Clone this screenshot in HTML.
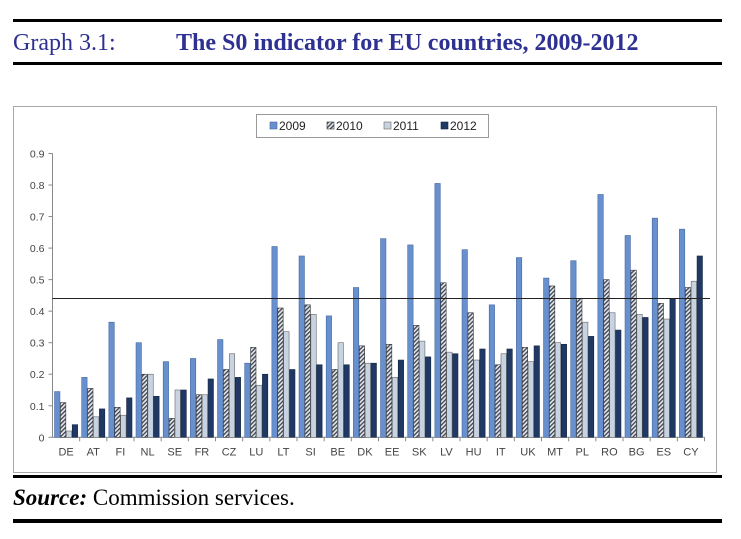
<!DOCTYPE html>
<html><head><meta charset="utf-8">
<style>
body{margin:0;background:#fff;width:741px;height:539px;overflow:hidden;position:relative;font-family:"Liberation Serif",serif}
.rule{position:absolute;left:13px;width:709px;background:#000}
</style></head>
<body>
<div class="rule" style="top:19px;height:3px"></div>
<div style="position:absolute;left:13px;top:29px;font-size:24px;line-height:28px;color:#2e3192">Graph 3.1:</div>
<div style="position:absolute;left:176px;top:29px;font-size:24px;line-height:28px;font-weight:bold;color:#2e3192">The S0 indicator for EU countries, 2009-2012</div>
<div class="rule" style="top:62px;height:3px"></div>
<svg id="chart" width="741" height="539" style="position:absolute;left:0;top:0" xmlns="http://www.w3.org/2000/svg">
<defs>
<pattern id="hatch" patternUnits="userSpaceOnUse" width="3" height="3" patternTransform="rotate(45)">
<rect width="3" height="3" fill="#e4e6ea"/><rect width="1.3" height="3" fill="#3a4250"/>
</pattern>
</defs>
<rect x="13.5" y="106.5" width="703" height="366" fill="#fff" stroke="#a9a9a9"/>
<g id="plot"></g>
</svg>
<div class="rule" style="top:475px;height:3px"></div>
<div style="position:absolute;left:13px;top:484px;font-size:23px;line-height:28px;color:#000"><b><i>Source:</i></b> Commission services.</div>
<div class="rule" style="top:519px;height:4px"></div>
<script>
const categories=["DE","AT","FI","NL","SE","FR","CZ","LU","LT","SI","BE","DK","EE","SK","LV","HU","IT","UK","MT","PL","RO","BG","ES","CY"];
const series2009=[0.145,0.19,0.365,0.30,0.24,0.25,0.31,0.235,0.605,0.575,0.385,0.475,0.63,0.61,0.805,0.595,0.42,0.57,0.505,0.56,0.77,0.64,0.695,0.66];
const series2010=[0.11,0.155,0.095,0.20,0.06,0.135,0.215,0.285,0.41,0.42,0.215,0.29,0.295,0.355,0.49,0.395,0.23,0.285,0.48,0.44,0.50,0.53,0.425,0.475];
const series2011=[0.02,0.065,0.07,0.20,0.15,0.135,0.265,0.165,0.335,0.39,0.30,0.235,0.19,0.305,0.27,0.245,0.265,0.24,0.30,0.365,0.395,0.39,0.375,0.495];
const series2012=[0.04,0.09,0.125,0.13,0.15,0.185,0.19,0.20,0.215,0.23,0.23,0.235,0.245,0.255,0.265,0.28,0.28,0.29,0.295,0.32,0.34,0.38,0.44,0.575];
const seriesNames=["2009","2010","2011","2012"];
const yTicks=[0,0.1,0.2,0.3,0.4,0.5,0.6,0.7,0.8,0.9];
const thresholdValue=0.44;

const NS="http://www.w3.org/2000/svg";
const g=document.getElementById('plot');
const X0=52.5,X1=704.5,Y0=437.3,Y9=153.5;
const yScale=v=>Y0-(v/0.9)*(Y0-Y9);
const band=(X1-X0)/categories.length;
const xScale=i=>X0+i*band;
const fills=["#6890cf","url(#hatch)","#c8d3e2","#1f3864"];
const strokes=["#45699f","#333","#666","#142641"];
function el(t,a){const e=document.createElementNS(NS,t);for(const k in a)e.setAttribute(k,a[k]);g.appendChild(e);return e;}

let ax=el('line',{x1:X0,y1:Y9,x2:X0,y2:Y0,stroke:'#888'});


let xa=el('line',{x1:X0,y1:Y0,x2:X1,y2:Y0,stroke:'#888'});


yTicks.forEach(v=>{
  const y=yScale(v);
  el('line',{x1:X0-4,y1:y,x2:X0,y2:y,stroke:'#888'});
  const t=el('text',{x:X0-8,y:y+4,'text-anchor':'end','font-size':'10.5','font-family':'Liberation Sans, sans-serif',fill:'#444'});
  t.textContent=String(v);
  
  
});
const all=[series2009,series2010,series2011,series2012];
categories.forEach((c,i)=>{
  const x=xScale(i);
  el('line',{x1:x+band,y1:Y0,x2:x+band,y2:Y0+4,stroke:'#888'});
  const bw=5.4, start=x+(band-4*bw-1.5)/2;
  all.forEach((s,k)=>{
    const y=yScale(s[i]);
    const r=el('rect',{x:start+k*(bw+0.5),y:y,width:bw,height:Y0-y,fill:fills[k],stroke:strokes[k],'stroke-width':'0.6'});
    
    
  });
  const t=el('text',{x:x+band/2,y:Y0+18,'text-anchor':'middle','font-size':'11','font-family':'Liberation Sans, sans-serif',fill:'#444'});
  t.textContent=c;
  
  
});
const th=el('line',{x1:X0,y1:yScale(thresholdValue),x2:710,y2:yScale(thresholdValue),stroke:'#222','stroke-width':'1'});



const lg=el('rect',{x:256.5,y:114.5,width:232,height:23,fill:'#fff',stroke:'#999'});


const lx=[270,327,384,441];
seriesNames.forEach((n,k)=>{
  const r=el('rect',{x:lx[k],y:122,width:7,height:7,fill:fills[k],stroke:strokes[k],'stroke-width':'0.6'});
  
  
  const t=el('text',{x:lx[k]+9,y:130,'font-size':'12','font-family':'Liberation Sans, sans-serif',fill:'#222'});
  t.textContent=n;
  
  
});
</script>
</body></html>
